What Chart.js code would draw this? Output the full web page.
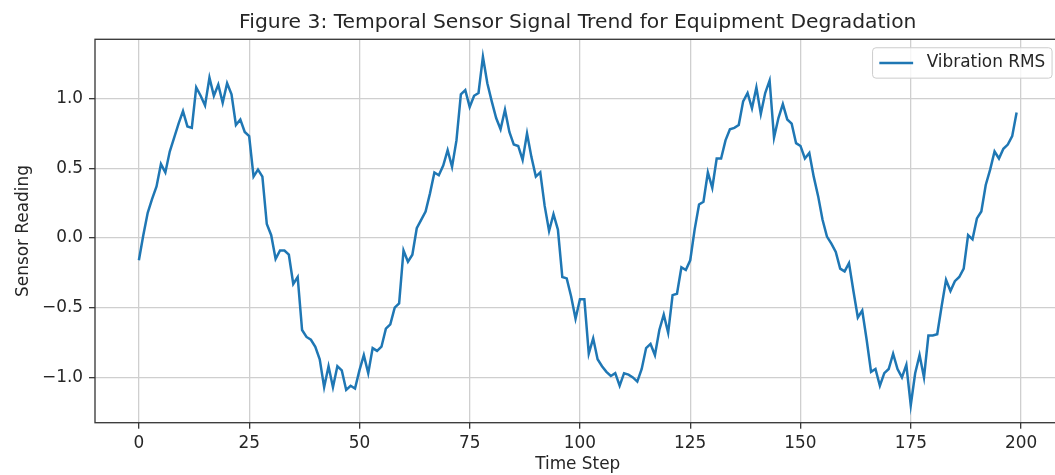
<!DOCTYPE html>
<html>
<head>
<meta charset="utf-8">
<script src="https://cdn.jsdelivr.net/npm/chart.js@4.4.1/dist/chart.umd.min.js"></script>
<style>
  html, body { margin: 0; padding: 0; background: #ffffff; overflow: hidden; width: 1055px; height: 475px; }
  #wrap { position: relative; width: 1075px; height: 475px; }
</style>
</head>
<body>
<div id="wrap"><canvas id="chart" width="1075" height="475"></canvas></div>
<script>
// ---- Data ----
const chartTitle = 'Figure 3: Temporal Sensor Signal Trend for Equipment Degradation';
const seriesLabel = 'Vibration RMS';
const xAxisLabel = 'Time Step';
const yAxisLabel = 'Sensor Reading';
const xTickValues = [0, 25, 50, 75, 100, 125, 150, 175, 200];
const yTickValues = [-1.0, -0.5, 0.0, 0.5, 1.0];

const vibrationRMS = [
  -0.16, 0.02, 0.18, 0.28, 0.37, 0.53, 0.47, 0.62, 0.72, 0.82,
   0.91, 0.80, 0.79, 1.08, 1.02, 0.95, 1.15, 1.02, 1.10, 0.97,
   1.11, 1.03, 0.81, 0.85, 0.76, 0.73, 0.44, 0.49, 0.44, 0.10,
   0.02, -0.15, -0.09, -0.09, -0.12, -0.33, -0.28, -0.66, -0.71, -0.73,
  -0.78, -0.87, -1.07, -0.92, -1.07, -0.92, -0.95, -1.09, -1.06, -1.08,
  -0.95, -0.84, -0.97, -0.79, -0.81, -0.78, -0.65, -0.62, -0.50, -0.47,
  -0.09, -0.17, -0.12, 0.07, 0.13, 0.19, 0.32, 0.47, 0.45, 0.52,
   0.63, 0.51, 0.70, 1.03, 1.06, 0.94, 1.02, 1.04, 1.30, 1.11,
   0.98, 0.86, 0.78, 0.92, 0.76, 0.67, 0.66, 0.56, 0.75, 0.58,
   0.44, 0.47, 0.23, 0.05, 0.17, 0.06, -0.28, -0.29, -0.42, -0.58,
  -0.44, -0.44, -0.83, -0.72, -0.87, -0.92, -0.96, -0.99, -0.97, -1.06,
  -0.97, -0.98, -1.00, -1.03, -0.94, -0.79, -0.76, -0.84, -0.66, -0.55,
  -0.68, -0.41, -0.40, -0.21, -0.23, -0.16, 0.06, 0.24, 0.26, 0.47,
   0.36, 0.57, 0.57, 0.70, 0.78, 0.79, 0.81, 0.98, 1.04, 0.93,
   1.08, 0.89, 1.04, 1.13, 0.72, 0.86, 0.96, 0.85, 0.82, 0.68,
   0.66, 0.57, 0.61, 0.44, 0.30, 0.13, 0.01, -0.04, -0.10, -0.22,
  -0.24, -0.18, -0.38, -0.57, -0.52, -0.73, -0.96, -0.94, -1.06, -0.97,
  -0.94, -0.83, -0.94, -1.00, -0.91, -1.20, -0.97, -0.84, -1.00, -0.70,
  -0.70, -0.69, -0.49, -0.30, -0.38, -0.31, -0.28, -0.22, 0.02, -0.01,
   0.14, 0.19, 0.38, 0.49, 0.62, 0.57, 0.64, 0.67, 0.73, 0.90
];
const timeSteps = vibrationRMS.map((_, i) => i);

// ---- Styling ----
const FONT = "'DejaVu Sans', 'Liberation Sans', sans-serif";
const TEXT = '#262626';
const LINE = '#1f77b4';
const SPINE = '#3a3a3a';
const GRID = '#cfcfcf';
const TICK_FS = 16.9;
const TITLE_FS = 20.3;

function minusFmt(v) {
  const s = Number(v).toFixed(1);
  return s.replace('-', '\u2212');
}

const framePlugin = {
  id: 'frameAndDecor',
  afterDatasetsDraw(chart) {
    const { ctx, chartArea: a } = chart;
    ctx.save();
    ctx.strokeStyle = SPINE;
    ctx.lineWidth = 1.35;
    ctx.strokeRect(a.left, a.top, a.right - a.left, a.bottom - a.top);
    ctx.restore();
  },
  afterDraw(chart) {
    const { ctx, chartArea: a } = chart;
    ctx.save();
    // Title
    ctx.fillStyle = TEXT;
    ctx.font = TITLE_FS + 'px ' + FONT;
    ctx.textAlign = 'center';
    ctx.textBaseline = 'alphabetic';
    ctx.fillText(chartTitle, (a.left + a.right) / 2, 28.3);

    // Legend (upper right, inside axes)
    const fs = TICK_FS;
    ctx.font = fs + 'px ' + FONT;
    const label = chart.data.datasets[0].label;
    const tw = ctx.measureText(label).width;
    const pad = 0.4 * fs;
    const handle = 2.0 * fs;
    const gap = 0.8 * fs;
    const boxW = pad + handle + gap + tw + pad;
    const boxH = 30.4;
    const right = a.right - 0.5 * fs;
    const top = a.top + 0.5 * fs;
    const left = right - boxW;
    const r = 3.4;
    ctx.beginPath();
    ctx.moveTo(left + r, top);
    ctx.lineTo(right - r, top);
    ctx.quadraticCurveTo(right, top, right, top + r);
    ctx.lineTo(right, top + boxH - r);
    ctx.quadraticCurveTo(right, top + boxH, right - r, top + boxH);
    ctx.lineTo(left + r, top + boxH);
    ctx.quadraticCurveTo(left, top + boxH, left, top + boxH - r);
    ctx.lineTo(left, top + r);
    ctx.quadraticCurveTo(left, top, left + r, top);
    ctx.closePath();
    ctx.fillStyle = 'rgba(255,255,255,0.8)';
    ctx.fill();
    ctx.strokeStyle = '#cccccc';
    ctx.lineWidth = 1;
    ctx.stroke();
    const cy = top + boxH / 2;
    ctx.strokeStyle = chart.data.datasets[0].borderColor;
    ctx.lineWidth = 2.5;
    ctx.beginPath();
    ctx.moveTo(left + pad, cy);
    ctx.lineTo(left + pad + handle, cy);
    ctx.stroke();
    ctx.fillStyle = TEXT;
    ctx.textAlign = 'left';
    ctx.textBaseline = 'middle';
    ctx.fillText(label, left + pad + handle + gap, cy);
    ctx.restore();
  }
};

new Chart(document.getElementById('chart'), {
  type: 'line',
  data: {
    datasets: [{
      label: seriesLabel,
      data: timeSteps.map((t, i) => ({ x: t, y: vibrationRMS[i] })),
      borderColor: LINE,
      backgroundColor: LINE,
      borderWidth: 2.5,
      pointRadius: 0,
      tension: 0,
      fill: false
    }]
  },
  options: {
    responsive: false,
    animation: false,
    devicePixelRatio: 1,
    layout: { padding: { top: 39.3, right: 14.5, bottom: 0, left: 0 } },
    plugins: {
      legend: { display: false },
      title: { display: false },
      tooltip: { enabled: false }
    },
    scales: {
      x: {
        type: 'linear',
        min: -9.95,
        max: 208.95,
        afterBuildTicks: (s) => { s.ticks = xTickValues.map(v => ({ value: v })); },
        afterFit: (s) => { s.height = 52.3; },
        border: { display: false },
        grid: { color: GRID, lineWidth: 1.3, drawTicks: true, tickLength: 6, tickColor: SPINE, tickWidth: 1.35 },
        ticks: { color: TEXT, font: { family: FONT, size: TICK_FS }, padding: 5, maxRotation: 0, autoSkip: false,
                 callback: (v) => String(v) },
        title: { display: true, text: xAxisLabel, color: TEXT, font: { family: FONT, size: TICK_FS }, padding: { top: 0, bottom: 0 } }
      },
      y: {
        type: 'linear',
        min: -1.325,
        max: 1.425,
        afterBuildTicks: (s) => { s.ticks = yTickValues.map(v => ({ value: v })); },
        afterFit: (s) => { s.width = 95; },
        border: { display: false },
        grid: { color: GRID, lineWidth: 1.3, drawTicks: true, tickLength: 6, tickColor: SPINE, tickWidth: 1.35 },
        ticks: { color: TEXT, font: { family: FONT, size: TICK_FS }, padding: 6, autoSkip: false,
                 callback: (v) => minusFmt(v) },
        title: { display: true, text: yAxisLabel, color: TEXT, font: { family: FONT, size: TICK_FS }, padding: { top: 13, bottom: 0 } }
      }
    }
  },
  plugins: [framePlugin]
});
</script>
</body>
</html>
